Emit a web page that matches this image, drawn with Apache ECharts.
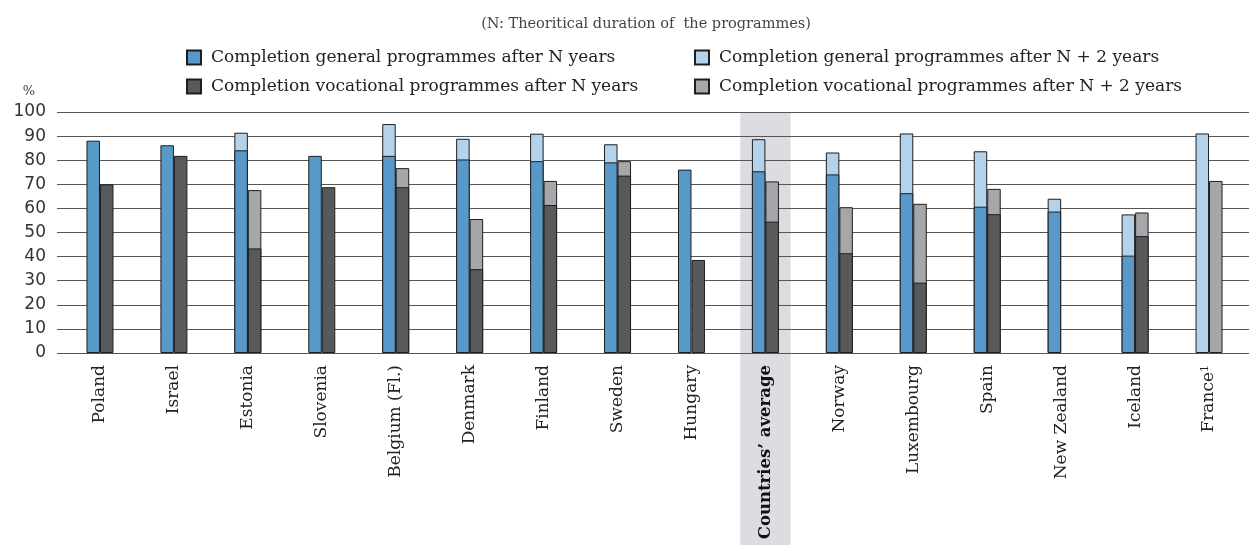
<!DOCTYPE html>
<html>
<head>
<meta charset="utf-8">
<script src="https://cdn.jsdelivr.net/npm/echarts@6/dist/echarts.min.js"></script>
<style>
html,body{margin:0;padding:0;background:#fff;}
#c{width:1249px;height:545px;}
</style>
</head>
<body>
<div id="c"></div>
<script>
var categories = ['Poland','Israel','Estonia','Slovenia','Belgium (Fl.)','Denmark','Finland','Sweden','Hungary','Countries\u2019 average','Norway','Luxembourg','Spain','New Zealand','Iceland','France'];
var generalN   = [88.1, 86.2, 84.1, 81.8, 81.8, 80.3, 79.6, 79.1, 76.1, 75.4, 74.1, 66.3, 60.7, 58.7, 40.4, null];
var generalN2  = [null, null, 91.4, null, 95.0, 88.9, 91.0, 86.6, null, 88.7, 83.2, 91.1, 83.7, 64.0, 57.5, 91.1];
var vocationalN  = [70.0, 81.8, 43.4, 68.8, 68.8, 34.8, 61.4, 73.6, 38.6, 54.5, 41.4, 29.2, 57.6, null, 48.5, null];
var vocationalN2 = [null, null, 67.6, null, 76.7, 55.6, 71.4, 79.6, null, 71.2, 60.5, 61.9, 68.1, null, 58.3, 71.4];
var yTicks = [0,10,20,30,40,50,60,70,80,90,100];
var averageCategory = 'Countries\u2019 average';
var footnoteCategory = 'France';

var NAME_GN = 'Completion general programmes after N years';
var NAME_GN2 = 'Completion general programmes after N + 2 years';
var NAME_VN = 'Completion vocational programmes after N years';
var NAME_VN2 = 'Completion vocational programmes after N + 2 years';

var SERIF = 'DejaVu Serif';
var SANS = 'DejaVu Sans';
var GRID_TOP = 112, GRID_BOTTOM = 192;

var chart = echarts.init(document.getElementById('c'), null, {renderer:'canvas'});

function barSeries(name, data, xi, color){
  return {
    name: name, type: 'bar', data: data, xAxisIndex: xi, yAxisIndex: 1,
    barWidth: 13.5, barGap: '0%',
    itemStyle: {color: color, borderColor: '#1e1e1e', borderWidth: 1},
    emphasis: {disabled: true}, animation: false
  };
}

function legendAt(left, names){
  return {
    orient: 'vertical', left: left, top: 49, padding: 0,
    itemWidth: 14, itemHeight: 14, itemGap: 12, icon: 'rect',
    data: names, selectedMode: false,
    textStyle: {fontFamily: SERIF, fontSize: 17, color: '#222', padding: [0,0,0,5]}
  };
}

var option = {
  animation: false,
  title: {
    text: '(N: Theoritical duration of  the programmes)',
    left: 646, textAlign: 'center', top: 17, padding: 0,
    textStyle: {fontFamily: SERIF, fontSize: 14.5, fontWeight: 'normal', color: '#444'}
  },
  legend: [
    legendAt(186, [NAME_GN, NAME_VN]),
    legendAt(694, [NAME_GN2, NAME_VN2])
  ],
  grid: [
    {left: 57, right: 0, top: GRID_TOP, bottom: GRID_BOTTOM, outerBoundsMode: 'none', containLabel: false},
    {left: 63, right: 3, top: GRID_TOP, bottom: GRID_BOTTOM, outerBoundsMode: 'none', containLabel: false}
  ],
  xAxis: [
    {gridIndex: 0, type: 'value', min: 0, max: 1, show: false},
    {
      gridIndex: 1, type: 'category', data: categories,
      axisLine: {show: false}, axisTick: {show: false},
      axisLabel: {
        rotate: 90, margin: 12, interval: 0,
        fontFamily: SERIF, fontSize: 17, color: '#222',
        formatter: function(v){
          if (v === averageCategory) return '{b|' + v + '}';
          if (v === footnoteCategory) return v + '{sup|1}';
          return v;
        },
        rich: {
          b: {fontFamily: SERIF, fontSize: 16.5, fontWeight: 'bold', color: '#111'},
          sup: {fontFamily: SERIF, fontSize: 11, color: '#222', verticalAlign: 'top', padding: [0,0,8,0]}
        }
      }
    },
    {gridIndex: 1, type: 'category', data: categories, show: false}
  ],
  yAxis: [
    {
      gridIndex: 0, type: 'value', min: 0, max: 100, interval: 10,
      name: '%', nameLocation: 'end', nameGap: 14,
      nameTextStyle: {fontFamily: SERIF, fontSize: 13, color: '#444', align: 'right', padding: [0, 22, 0, 0]},
      axisLine: {show: false}, axisTick: {show: false},
      axisLabel: {margin: 11, fontFamily: SANS, fontSize: 17, color: '#333'},
      splitLine: {lineStyle: {color: '#555', width: 1}}
    },
    {gridIndex: 1, type: 'value', min: 0, max: 100, interval: 10, show: false}
  ],
  series: [
    barSeries(NAME_GN2, generalN2, 1, '#b4d2ea'),
    barSeries(NAME_VN2, vocationalN2, 1, '#a6a7ab'),
    barSeries(NAME_GN, generalN, 2, '#5899c9'),
    barSeries(NAME_VN, vocationalN, 2, '#58595b')
  ]
};
chart.setOption(option);

var cx = chart.convertToPixel({xAxisIndex: 1}, averageCategory);
var step = chart.convertToPixel({xAxisIndex: 1}, categories[1]) - chart.convertToPixel({xAxisIndex: 1}, categories[0]);
var bandW = step * 0.68;
chart.setOption({
  graphic: [{
    type: 'rect', z: -10, silent: true,
    shape: {x: cx - bandW / 2, y: GRID_TOP, width: bandW, height: 545 - GRID_TOP},
    style: {fill: '#dcdde0'}
  }]
});
</script>
</body>
</html>
